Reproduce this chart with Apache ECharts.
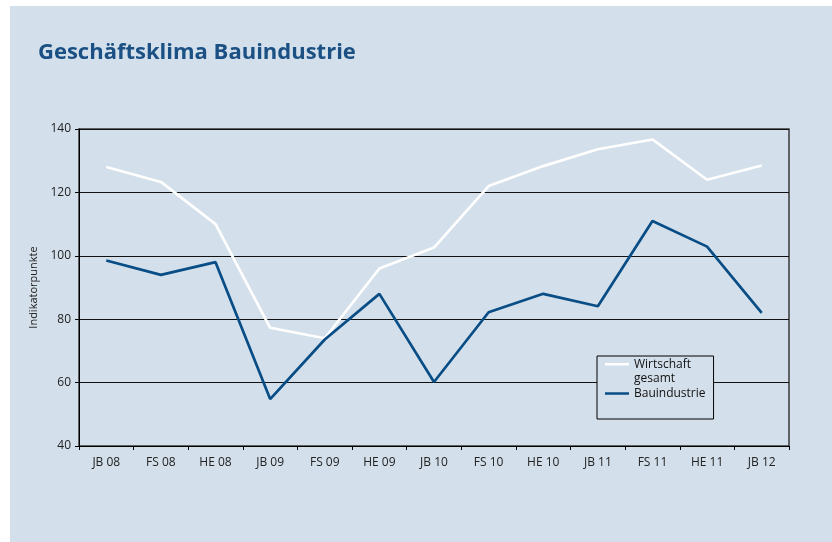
<!DOCTYPE html>
<html lang="de">
<head>
    <meta charset="UTF-8">
    <title>Geschäftsklima Bauindustrie</title>
    <style>
        body{ margin:0; background:#fff; }
        #panel{ position:absolute; left:10px; top:6px; right:0; bottom:0; background:#d3dfea; }
        #chart{ position:absolute; left:0; top:0; width:832px; height:542px; }
    </style>
    <script src="https://cdn.jsdelivr.net/npm/echarts@6/dist/echarts.min.js"></script>
</head>
<body>
    <div id="panel"></div>
    <div id="chart"></div>
<script>
    // Kategorien (Halbjahre)
    var categories = ['JB 08','FS 08','HE 08','JB 09','FS 09','HE 09','JB 10','FS 10','HE 10','JB 11','FS 11','HE 11','JB 12'];
    // Wirtschaft gesamt
    var wirtschaft = [128, 123.3, 110, 77.3, 74, 96, 102.6, 122, 128.3, 133.6, 136.7, 124, 128.5];
    // Bauindustrie
    var bau = [98.5, 94, 98, 54.8, 73.6, 88, 60.2, 82.2, 88, 84.1, 111, 102.9, 82];
    // y-Achse
    var yMin = 40, yMax = 140, yStep = 20;

    var font = 'Open Sans';
    var chart = echarts.init(document.getElementById('chart'));

    var option = {
        backgroundColor: 'transparent',
        animation: false,
        title: {
            text: 'Geschäftsklima Bauindustrie',
            left: 33,
            top: 37,
            textStyle: { fontFamily: font, fontSize: 22, fontWeight: 'bold', color: '#1a5083' }
        },
        legend: {
            orient: 'vertical',
            left: 597,
            top: 356,
            itemWidth: 24,
            itemHeight: 29,
            itemGap: -7,
            padding: [1, 8, 11, 8],
            borderColor: '#000',
            borderWidth: 1,
            backgroundColor: '#d3dfea',
            textStyle: { fontFamily: font, fontSize: 12, lineHeight: 14.5, color: '#111' },
            data: [
                { name: 'Wirtschaft\ngesamt', icon: 'path://M0,0L24,0L24,0Z M0,6H24V8.5H0Z M24,29L24,29Z' },
                { name: 'Bauindustrie', icon: 'path://M0,0L24,0L24,0Z M0,13.25H24V15.75H0Z M24,29L24,29Z' }
            ]
        },
        grid: {
            left: 79, top: 129, right: 43, bottom: 96,
            show: true, borderColor: '#3a3a3a', borderWidth: 1.5, backgroundColor: 'transparent'
        },
        xAxis: {
            type: 'category',
            data: categories,
            boundaryGap: true,
            axisLine: { lineStyle: { color: '#000', width: 1 } },
            axisTick: { show: true, length: 4, lineStyle: { color: '#000' } },
            axisLabel: { fontFamily: font, fontSize: 12, color: '#222', margin: 11 }
        },
        yAxis: {
            type: 'value',
            min: yMin, max: yMax, interval: yStep,
            name: 'Indikatorpunkte',
            nameLocation: 'middle',
            nameRotate: 90,
            nameGap: 32,
            nameTextStyle: { fontFamily: font, fontSize: 11, color: '#222' },
            axisLine: { show: true, lineStyle: { color: '#000', width: 1 } },
            axisTick: { show: true, length: 4, lineStyle: { color: '#000' } },
            axisLabel: { fontFamily: font, fontSize: 12, color: '#222', margin: 8 },
            splitLine: { lineStyle: { color: '#111', width: 1 } }
        },
        series: [
            {
                name: 'Wirtschaft\ngesamt',
                type: 'line',
                data: wirtschaft,
                symbol: 'none',
                color: '#ffffff',
                lineStyle: { color: '#ffffff', width: 2.7 }
            },
            {
                name: 'Bauindustrie',
                type: 'line',
                data: bau,
                symbol: 'none',
                color: '#084d85',
                lineStyle: { color: '#084d85', width: 2.7 }
            }
        ]
    };
    chart.setOption(option);
</script>
</body>
</html>
